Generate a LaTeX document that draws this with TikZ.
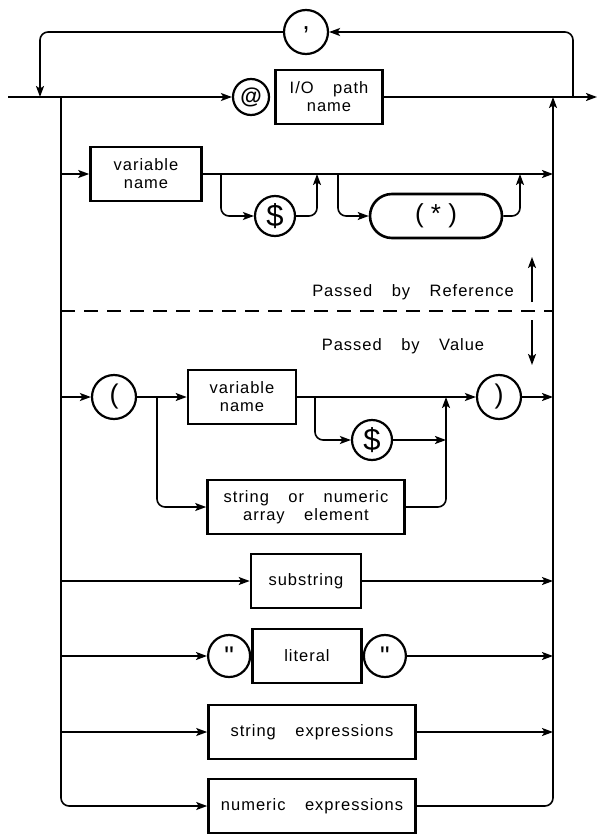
\documentclass[tikz,border=0pt]{standalone}
\usepackage{fontspec}
\setmainfont{Liberation Sans}[LetterSpace=6,WordSpace=3.5]
\newfontfamily\tokfont{Liberation Sans}
\usetikzlibrary{arrows.meta,positioning,calc}

\begin{document}
\begin{tikzpicture}[
    x=1pt, y=-1pt,
    font=\fontsize{16.5}{18}\selectfont,
    box/.style={draw, line width=2.6pt, align=center, inner sep=2pt, minimum height=54pt},
    tok/.style={draw, circle, line width=2.2pt, inner sep=0pt, minimum size=40pt, font=\tokfont\fontsize{27}{28}\selectfont},
    wire/.style={line width=1.6pt, rounded corners=8pt},
    arrow/.style={wire, -{Stealth[length=11pt,width=8pt,inset=2.5pt]}}
  ]
    \useasboundingbox (0,0) rectangle (597,835);
    \coordinate (in) at (8,97);
    \coordinate (out) at (597,97);
    \coordinate (lrail) at (61,97);
    \coordinate (rrail) at (553,97);
    \coordinate (loopL) at (40,97);
    \coordinate (loopR) at (573,97);
    \node[tok, minimum size=36pt, font=\tokfont\bfseries\fontsize{22}{24}\selectfont] (at) at (251,97) {@};
    \node[box, minimum width=107pt] (io) at (329,97) {I/O path\\name};
    \node[tok, minimum size=44pt] (comma) at (306,32) {\raisebox{7pt}{,}};
    \node[box, minimum width=111pt] (vnA) at (146,174) {variable\\name};
    \node[tok, font=\tokfont\fontsize{31}{32}\selectfont] (dolA) at (275,216) {\$};
    \node[box, rounded corners=22pt, minimum width=132pt, minimum height=44pt,
          font=\tokfont\fontsize{26}{28}\selectfont] (star) at (436,216) {( * )};
    \node (ref) at (413,292) {Passed by Reference};
    \node (val) at (403,346) {Passed by Value};
    \node[tok, minimum size=44pt] (lpar) at (114,397) {(};
    \node[box, minimum width=108pt] (vnB) at (242,397) {variable\\name};
    \node[tok, minimum size=44pt] (rpar) at (499,397) {)};
    \node[tok, font=\tokfont\fontsize{31}{32}\selectfont] (dolB) at (372,440) {\$};
    \node[box, minimum width=197pt] (sna) at (306,507) {string or numeric\\array element};
    \node[box, minimum width=110pt] (subs) at (306,581) {substring};
    \node[box, minimum width=109pt] (lit) at (307,656) {literal};
    \node[tok, minimum size=42pt, left=0pt of lit] (lq) {"};
    \node[tok, minimum size=42pt, right=0pt of lit] (rq) {"};
    \node[box, minimum width=207pt] (sexp) at (312,732) {string expressions};
    \node[box, minimum width=207pt] (nexp) at (312,806) {numeric expressions};
    % main line and repeat loop
    \draw[arrow] (in) -- (at.west);
    \draw[arrow] (io.east) -- (out);
    \draw[arrow] (loopR) |- (comma.east);
    \draw[arrow] (comma.west) -| (loopL);
    \draw[arrow] (lrail) |- (nexp.west);
    \draw[arrow] (nexp.east) -| (rrail);
    % passed by reference
    \coordinate (jA1) at (221,174);
    \coordinate (jA2) at (317,174);
    \coordinate (jA3) at (338,174);
    \coordinate (jA4) at (520,174);
    \draw[arrow] (lrail |- vnA.west) -- (vnA.west);
    \draw[arrow] (vnA.east) -- (rrail |- vnA.east);
    \draw[arrow] (jA1) |- (dolA.west);
    \draw[arrow] (dolA.east) -| (jA2);
    \draw[arrow] (jA3) |- (star.west);
    \draw[arrow] (star.east) -| (jA4);
    \coordinate (dashL) at (61,311);
    \coordinate (dashR) at (553,311);
    \draw[line width=1.5pt, dash pattern=on 14pt off 9pt] (dashL) -- (dashR);
    \coordinate (upS) at (532,302);
    \coordinate (upE) at (532,257);
    \coordinate (dnS) at (532,320);
    \coordinate (dnE) at (532,365);
    \draw[arrow] (upS) -- (upE);
    \draw[arrow] (dnS) -- (dnE);
    % passed by value
    \coordinate (jB1) at (157,397);
    \coordinate (jB2) at (315,397);
    \coordinate (jB3) at (446,397);
    \draw[arrow] (lrail |- lpar.west) -- (lpar.west);
    \draw[arrow] (lpar.east) -- (vnB.west);
    \draw[arrow] (vnB.east) -- (rpar.west);
    \draw[arrow] (rpar.east) -- (rrail |- rpar.east);
    \draw[arrow] (jB1) |- (sna.west);
    \draw[arrow] (jB2) |- (dolB.west);
    \draw[arrow] (dolB.east) -- (jB3 |- dolB.east);
    \draw[arrow] (sna.east) -| (jB3);
    \draw[arrow] (lrail |- subs.west) -- (subs.west);
    \draw[arrow] (subs.east) -- (rrail |- subs.east);
    \draw[arrow] (lrail |- lq.west) -- (lq.west);
    \draw[arrow] (rq.east) -- (rrail |- rq.east);
    \draw[arrow] (lrail |- sexp.west) -- (sexp.west);
    \draw[arrow] (sexp.east) -- (rrail |- sexp.east);
\end{tikzpicture}
\end{document}
